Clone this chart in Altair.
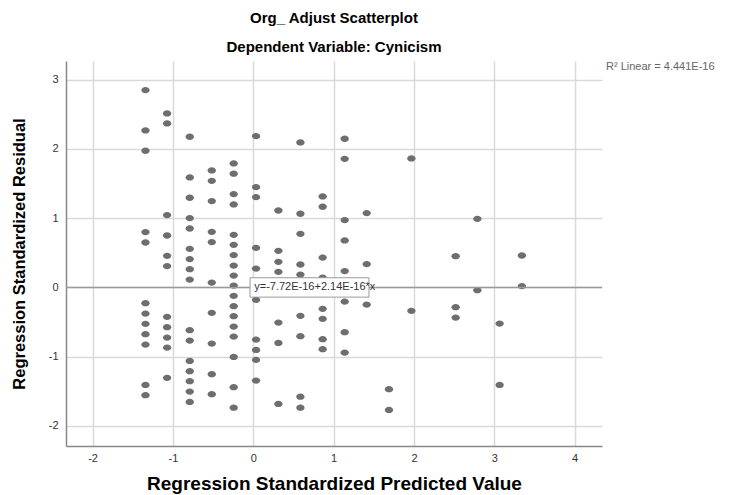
import altair as alt
import pandas as pd

# Regression standardized predicted value (x) and residual (y), read column by column
x_cols = [-1.341, -1.072, -0.790, -0.516, -0.243, 0.035, 0.313, 0.587, 0.864,
          1.138, 1.412, 1.689, 1.968, 2.519, 2.789, 3.066, 3.343]
y_cols = [
    [2.851, 2.267, 1.974, 0.799, 0.649, -0.227, -0.377, -0.526, -0.675, -0.825, -1.408, -1.556],
    [2.513, 2.368, 1.045, 0.750, 0.457, 0.308, -0.425, -0.574, -0.724, -0.868, -1.306],
    [2.176, 1.588, 1.295, 1.001, 0.851, 0.558, 0.409, 0.264, 0.114, -0.617, -0.767, -1.061,
     -1.210, -1.354, -1.504, -1.653],
    [1.689, 1.540, 1.247, 0.803, 0.655, 0.071, -0.367, -0.811, -1.253, -1.542],
    [1.790, 1.642, 1.348, 1.198, 0.760, 0.616, 0.467, 0.316, 0.172, 0.027, -0.121, -0.270,
     -0.415, -0.565, -0.710, -1.003, -1.441, -1.736],
    [2.186, 1.449, 1.305, 0.572, 0.273, -0.179, -0.753, -0.902, -1.046, -1.345],
    [1.111, 0.529, 0.370, 0.225, -0.507, -0.801, -1.682],
    [2.094, 1.064, 0.775, 0.331, 0.186, -0.410, -0.704, -1.577, -1.736],
    [1.314, 1.165, 0.432, 0.143, -0.309, -0.454, -0.747, -0.892],
    [2.147, 1.858, 0.973, 0.678, 0.236, -0.204, -0.646, -0.941],
    [1.074, 0.337, -0.247],
    [-1.470, -1.769],
    [1.863, -0.338],
    [0.452, -0.285, -0.435],
    [0.991, -0.039],
    [-0.522, -1.408],
    [0.461, 0.019],
]
x_ticks = [-2, -1, 0, 1, 2, 3, 4]
y_ticks = [-2, -1, 0, 1, 2, 3]
x_domain = [-2.33, 4.34]
y_domain = [-2.29, 3.27]
fit_intercept = 0.0
fit_label = "y=-7.72E-16+2.14E-16*x"
r2_label = "R\u00b2 Linear = 4.441E-16"

rows = []
for xv, ys in zip(x_cols, y_cols):
    for yv in ys:
        rows.append({"pred": xv, "resid": yv})
df = pd.DataFrame(rows)

FONT = "Liberation Sans"
ellipse = "M -1 0 A 1 0.75 0 1 0 1 0 A 1 0.75 0 1 0 -1 0 Z"

xs = alt.Scale(domain=x_domain, nice=False, zero=False)
ys_ = alt.Scale(domain=y_domain, nice=False, zero=False)

points = alt.Chart(df).mark_point(
    shape=ellipse, filled=True, color="#6e6e6e", opacity=1, size=70
).encode(
    x=alt.X("pred:Q", scale=xs,
            axis=alt.Axis(values=x_ticks, labelExpr="toString(datum.value)",
                          title="Regression Standardized Predicted Value",
                          grid=True, ticks=False, labelPadding=6, titlePadding=11,
                          titleFontSize=19)),
    y=alt.Y("resid:Q", scale=ys_,
            axis=alt.Axis(values=y_ticks, labelExpr="toString(datum.value)",
                          title="Regression Standardized Residual",
                          grid=True, ticks=False, labelPadding=8, titlePadding=21,
                          titleFontSize=16.5)),
)

fit = alt.Chart(pd.DataFrame({"y": [fit_intercept]})).mark_rule(
    color="#9a9a9a", strokeWidth=1.5
).encode(y=alt.Y("y:Q", scale=ys_))

box = alt.Chart(pd.DataFrame({"x1": [-0.04], "x2": [1.44], "y1": [-0.14], "y2": [0.14]})).mark_rect(
    fill="white", stroke="#9a9a9a", strokeWidth=1
).encode(x=alt.X("x1:Q", scale=xs), x2="x2:Q", y=alt.Y("y1:Q", scale=ys_), y2="y2:Q")

fit_text = alt.Chart(pd.DataFrame({"x": [0.0], "y": [0.0], "t": [fit_label]})).mark_text(
    align="left", baseline="middle", font=FONT, fontSize=11, color="#333333", dx=1
).encode(x=alt.X("x:Q", scale=xs), y=alt.Y("y:Q", scale=ys_), text="t:N")

r2_text = alt.Chart(pd.DataFrame({"t": [r2_label]})).mark_text(
    align="left", baseline="middle", font=FONT, fontSize=11, color="#666666", clip=False
).encode(x=alt.value(540), y=alt.value(6), text="t:N")

chart = alt.layer(points, fit, box, fit_text, r2_text).properties(
    width=536, height=385,
    title=alt.TitleParams(
        text=["Org_ Adjust Scatterplot", "Dependent Variable: Cynicism"],
        font=FONT, fontSize=15, fontWeight="bold", color="#000000",
        anchor="middle", lineHeight=29, offset=6,
    ),
    padding={"left": 66, "top": 61, "right": 132, "bottom": 49},
    autosize=alt.AutoSizeParams(type="none"),
).configure_view(stroke=None).configure_axis(
    labelFont=FONT, labelFontSize=11, labelColor="#333333",
    titleFont=FONT, titleFontWeight="bold", titleColor="#000000",
    gridColor="#d9d9d9", gridWidth=1.5, domainColor="#888888", domainWidth=1.5,
)

chart.save("out.html", embed_options={"renderer": "svg", "actions": False})
